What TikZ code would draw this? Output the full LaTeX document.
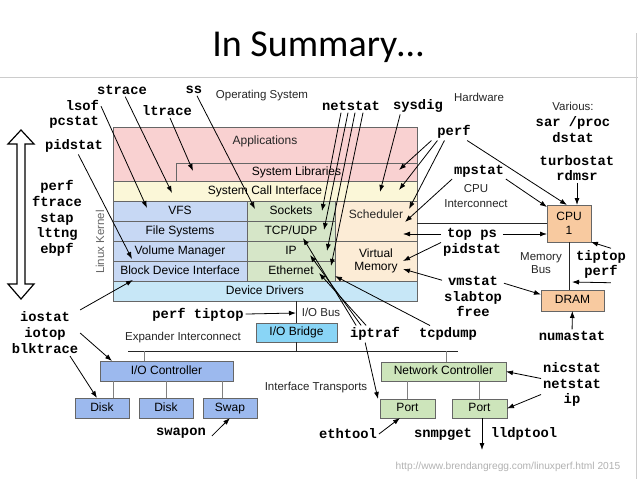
\documentclass[tikz,border=0pt]{standalone}
\usepackage{fontspec}
\setmainfont{Liberation Sans}
\setmonofont{Liberation Mono}
\newfontfamily\titlefont{Carlito}
\usepackage{tikz}
\usetikzlibrary{arrows.meta,positioning}

\definecolor{appcol}{RGB}{249,209,209}
\definecolor{scicol}{RGB}{251,247,216}
\definecolor{fscol}{RGB}{199,216,244}
\definecolor{netcol}{RGB}{214,230,200}
\definecolor{schedcol}{RGB}{252,236,214}
\definecolor{drvcol}{RGB}{199,231,247}
\definecolor{bridgecol}{RGB}{137,213,246}
\definecolor{iocol}{RGB}{156,185,238}
\definecolor{niccol}{RGB}{205,229,187}
\definecolor{cpucol}{RGB}{248,202,160}

\tikzset{
  tool/.style={font=\ttfamily\bfseries\fontsize{13.8}{15.6}\selectfont, align=center, inner sep=0pt, outer sep=2pt},
  lbl/.style={font=\fontsize{11.5}{14}\selectfont, text=black!85, align=center, inner sep=0pt},
  layer/.style={draw=black!60, line width=0.7pt, font=\fontsize{12}{13.5}\selectfont, align=center, inner sep=0pt, outer sep=0pt, anchor=north west},
  oneline/.style={text height=8.6pt, text depth=2.4pt},
  fsbox/.style={layer, oneline, fill=fscol, minimum width=134, minimum height=20},
  netbox/.style={layer, oneline, fill=netcol, minimum width=88, minimum height=20},
  arr/.style={-{Latex[length=7pt,width=5pt]}, line width=0.8pt},
  link/.style={black!50, line width=1pt},
  bus/.style={black!85, line width=0.8pt},
}

\begin{document}
\begin{tikzpicture}[x=1pt, y=-1pt]
\useasboundingbox (0,0) rectangle (638,479);
\fill[white] (0,0) rectangle (638,479);
\draw[black!20, line width=0.8pt] (0,77.5) -- (638,77.5) (636.5,33) -- (636.5,479);
\node[font=\titlefont\fontsize{38}{40}\selectfont] (title) at (318,47) {In Summary…};

% kernel layers
\node[layer, fill=appcol, minimum width=304, minimum height=54] (apps) at (113,127) {};
\node[lbl, font=\fontsize{12}{13.5}\selectfont, below=9pt of apps.north] (appstxt) {Applications};
\node[layer, oneline, fill=appcol, minimum width=241, minimum height=18] (syslib) at (176,163) {System Libraries};
\node[layer, oneline, fill=scicol, minimum width=304, minimum height=20] (syscall) at (113,181) {System Call Interface};
\node[fsbox] (vfs) at (113,201) {VFS};
\node[fsbox, below=0pt of vfs] (fs) {File Systems};
\node[fsbox, below=0pt of fs] (volmgr) {Volume Manager};
\node[fsbox, below=0pt of volmgr] (bdi) {Block Device Interface};
\node[netbox, right=0pt of vfs] (sockets) {Sockets};
\node[netbox, below=0pt of sockets] (tcpudp) {TCP/UDP};
\node[netbox, below=0pt of tcpudp] (ip) {IP};
\node[netbox, below=0pt of ip] (eth) {Ethernet};
\node[layer, fill=schedcol, minimum width=82, minimum height=40, right=0pt of sockets.north east, anchor=north west] (sched) {};
\node[lbl, font=\fontsize{12}{13.5}\selectfont, below=8.5pt of sched.north] (schedtxt) {Scheduler};
\node[layer, fill=schedcol, minimum width=82, minimum height=40, below=0pt of sched] (vm) {Virtual\\Memory};
\node[layer, oneline, fill=drvcol, minimum width=304, minimum height=20, below=0pt of bdi.south west, anchor=north west] (devdrv) {Device Drivers};
\node[lbl, rotate=90, text=black!60] (lk) at (100,242) {Linux Kernel};

% hardware
\node[layer, fill=cpucol, minimum width=44, minimum height=37] (cpu1) at (547,205) {CPU\\1};
\node[layer, oneline, fill=cpucol, minimum width=63, minimum height=21] (dram) at (541,290) {DRAM};
\node[layer, oneline, fill=bridgecol, minimum width=81, minimum height=19] (iobridge) at (256,323) {I/O Bridge};
\node[layer, oneline, fill=iocol, minimum width=133, minimum height=20] (ioctl) at (100,361) {I/O Controller};
\node[layer, oneline, fill=iocol, minimum width=54, minimum height=20] (disk1) at (75,398) {Disk};
\node[layer, oneline, fill=iocol, minimum width=54, minimum height=20, right=10pt of disk1] (disk2) {Disk};
\node[layer, oneline, fill=iocol, minimum width=54, minimum height=20, right=10pt of disk2] (swap) {Swap};
\node[layer, oneline, fill=niccol, minimum width=125, minimum height=19] (netctl) at (381,362) {Network Controller};
\node[layer, oneline, fill=niccol, minimum width=55, minimum height=19] (port1) at (380,399) {Port};
\node[layer, oneline, fill=niccol, minimum width=55, minimum height=19, right=17pt of port1] (port2) {Port};

\node[lbl] (os) at (262,96) {Operating System};
\node[lbl] (hw) at (479,97) {Hardware};
\node[lbl] (various) at (573,106) {Various:};
\node[lbl, font=\fontsize{11.5}{15}\selectfont] (cpuic) at (476,196.5) {CPU\\Interconnect};
\node[lbl, font=\fontsize{11.5}{13}\selectfont] (membus) at (541,263.5) {Memory\\Bus};
\node[lbl] (iobus) at (321,312) {I/O Bus};
\node[lbl] (expander) at (183,338) {Expander Interconnect};
\node[lbl] (ifaces) at (316,388) {Interface Transports};
\node[font=\fontsize{10.2}{12}\selectfont, text=black!30] (url) at (508,467) {http://www.brendangregg.com/linuxperf.html 2015};

% buses
\coordinate (exp-l) at (128,351);
\coordinate (exp-r) at (458,351);
\draw[bus] (apps.east |- cpu1.west) -- (cpu1.west);
\draw[bus] (cpu1.south) -- (cpu1.south |- dram.north);
\draw[bus] (iobridge.north |- devdrv.south) -- (iobridge.north);
\draw[bus] (iobridge.south) -- (iobridge.south |- exp-l);
\draw[bus] (exp-l) -- (exp-r);
\draw[link] ([xshift=-22.5pt]ioctl.north) -- ++(0,-10);
\draw[link] ([xshift=2.5pt]netctl.north) -- ++(0,-11);
\foreach \b/\dx in {disk1/11, disk2/0, swap/-8}
  \draw[link] ([xshift=\dx pt]\b.north) -- ++(0,-17);
\foreach \b in {port1,port2}
  \draw[link] (\b.north) -- ++(0,-18);

% up/down arrow
\draw[line width=1.2pt, fill=white] (21,130) -- (34,144) -- (25,144) -- (25,284) -- (34,284) -- (21,299)
  -- (8,284) -- (17,284) -- (17,144) -- (8,144) -- cycle;

% tools
\node[tool] (strace) at (122,90) {strace};
\node[tool] (ss) at (194,90) {ss};
\node[tool, align=right, anchor=east] (lsof) at (101,114.5) {lsof\\pcstat};
\node[tool] (ltrace) at (167,111) {ltrace};
\node[tool] (pidstatl) at (74,146) {pidstat};
\node[tool] (tracers) at (57,218.5) {perf\\ftrace\\stap\\lttng\\ebpf};
\node[tool] (netstat) at (351,106) {netstat};
\node[tool] (sysdig) at (418,106) {sysdig};
\node[tool] (perfhw) at (454,132) {perf};
\node[tool] (mpstat) at (479,171) {mpstat};
\node[tool] (sarproc) at (573,129.5) {sar /proc\\dstat};
\node[tool] (turbostat) at (577,168) {turbostat\\rdmsr};
\node[tool] (topps) at (472,242.5) {top ps\\pidstat};
\node[tool] (vmstat) at (473,296.5) {vmstat\\slabtop\\free};
\node[tool] (tiptop) at (601,264.5) {tiptop\\perf};
\node[tool] (numastat) at (572,336) {numastat};
\node[tool] (perftiptop) at (198,315) {perf tiptop};
\node[tool, font=\ttfamily\bfseries\fontsize{13.8}{16}\selectfont] (iostat) at (45,333) {iostat\\iotop\\blktrace};
\node[tool] (swapon) at (181,433) {swapon};
\node[tool] (iptraf) at (375,334) {iptraf};
\node[tool] (tcpdump) at (448,334) {tcpdump};
\node[tool] (nicstat) at (572,384.5) {nicstat\\netstat\\ip};
\node[tool] (ethtool) at (348,434) {ethtool};
\node[tool] (snmpget) at (443,434) {snmpget};
\node[tool] (lldptool) at (524,434) {lldptool};

% arrow targets
\coordinate (t-ltrace) at (193,171);
\coordinate (t-strace) at (172,193);
\coordinate (t-lsof) at (147,208);
\coordinate (t-pidstat) at (132,259);
\coordinate (t-iostat) at (133,280);
\coordinate (t-ss) at (255,209);
\coordinate (t-sock) at (322,211);
\coordinate (t-tcp) at (324,230);
\coordinate (t-ip) at (327,251);
\coordinate (t-eth) at (331,266);
\coordinate (t-sysdig) at (380,192);
\coordinate (t-perf1) at (399,170);
\coordinate (t-perf2) at (399,190);
\coordinate (t-perf3) at (409,209);
\coordinate (t-mpstat) at (405,222);
\coordinate (t-topps) at (403,234);
\coordinate (t-pidstat2) at (403,261);
\coordinate (t-vmstat) at (403,269);
\coordinate (t-tcp2) at (303,238);
\coordinate (t-ip2) at (310,255);
\coordinate (t-eth2) at (319,273);
\coordinate (t-tcpdump) at (335,276);
\coordinate (t-iobus) at (296,313);
\coordinate (membus-t) at (572,282);
\coordinate (snmp) at (482,450);

\draw[arr] (strace) -- (t-strace);
\draw[arr] (ss) -- (t-ss);
\draw[arr] ([yshift=-8pt]lsof.north east) -- (t-lsof);
\draw[arr] (ltrace) -- (t-ltrace);
\draw[arr] (pidstatl) -- (t-pidstat);
\foreach \dx/\tip in {21/t-sock, 28/t-tcp, 35/t-ip, 43/t-eth}
  \draw[arr] ([xshift=\dx pt]netstat.south west) -- (\tip);
\draw[arr] ([xshift=9pt]sysdig.south west) -- (t-sysdig);
\foreach \dx/\tip in {-4/t-perf1, 2/t-perf2, 9/t-perf3}
  \draw[arr] ([xshift=\dx pt]perfhw.south west) -- (\tip);
\draw[arr] (perfhw) -- ([xshift=-2pt]cpu1.north);
\draw[arr] (mpstat.south west) -- (t-mpstat);
\draw[arr] (mpstat.south east) -- ([yshift=-2pt]cpu1.north west);
\draw[arr] (turbostat.south) -- (turbostat.south |- cpu1.north);
\draw[arr] (topps.west |- t-topps) -- (t-topps);
\draw[arr] (topps.east |- t-topps) -- (cpu1.west |- t-topps);
\draw[arr] (topps.west) -- (t-pidstat2);
\draw[arr] ([yshift=-6pt]vmstat.north west) -- (t-vmstat);
\draw[arr] ([yshift=-9pt]vmstat.north east) -- ([yshift=6pt]dram.west);
\draw[arr] ([xshift=10pt]tiptop.north) -- (cpu1.south east);
\draw[arr] ([xshift=-17pt,yshift=-2pt]tiptop.south east) -- (membus-t);
\draw[arr] (numastat) -- (dram);
\draw[arr] (perftiptop) -- (t-iobus);
\draw[arr] (iostat.north east) -- (t-iostat);
\draw[arr] (iostat.east) -- ([xshift=12pt]ioctl.north west);
\draw[arr] ([xshift=25pt]iostat.south) -- ([xshift=22pt]disk1.north west);
\draw[arr] ([xshift=4pt,yshift=-3pt]swapon.east) -- ([xshift=27pt]swap.south west);
\foreach \dx/\tip in {8/t-tcp2, 13/t-ip2, 18/t-eth2}
  \draw[arr] ([xshift=\dx pt]iptraf.north west) -- (\tip);
\draw[arr] ([xshift=17pt]iptraf.south west) -- ([xshift=-2pt]port1.north west);
\draw[arr] ([xshift=13pt]tcpdump.north west) -- (t-tcpdump);
\draw[arr] (ethtool.east) -- ([xshift=20pt]port1.south west);
\draw[arr] (port2.south -| snmp) -- (snmp);
\draw[arr] ([yshift=6pt]nicstat.west) -- (netctl.east);
\draw[arr] ([yshift=-10pt]nicstat.west) -- (port2.east);
\end{tikzpicture}
\end{document}
